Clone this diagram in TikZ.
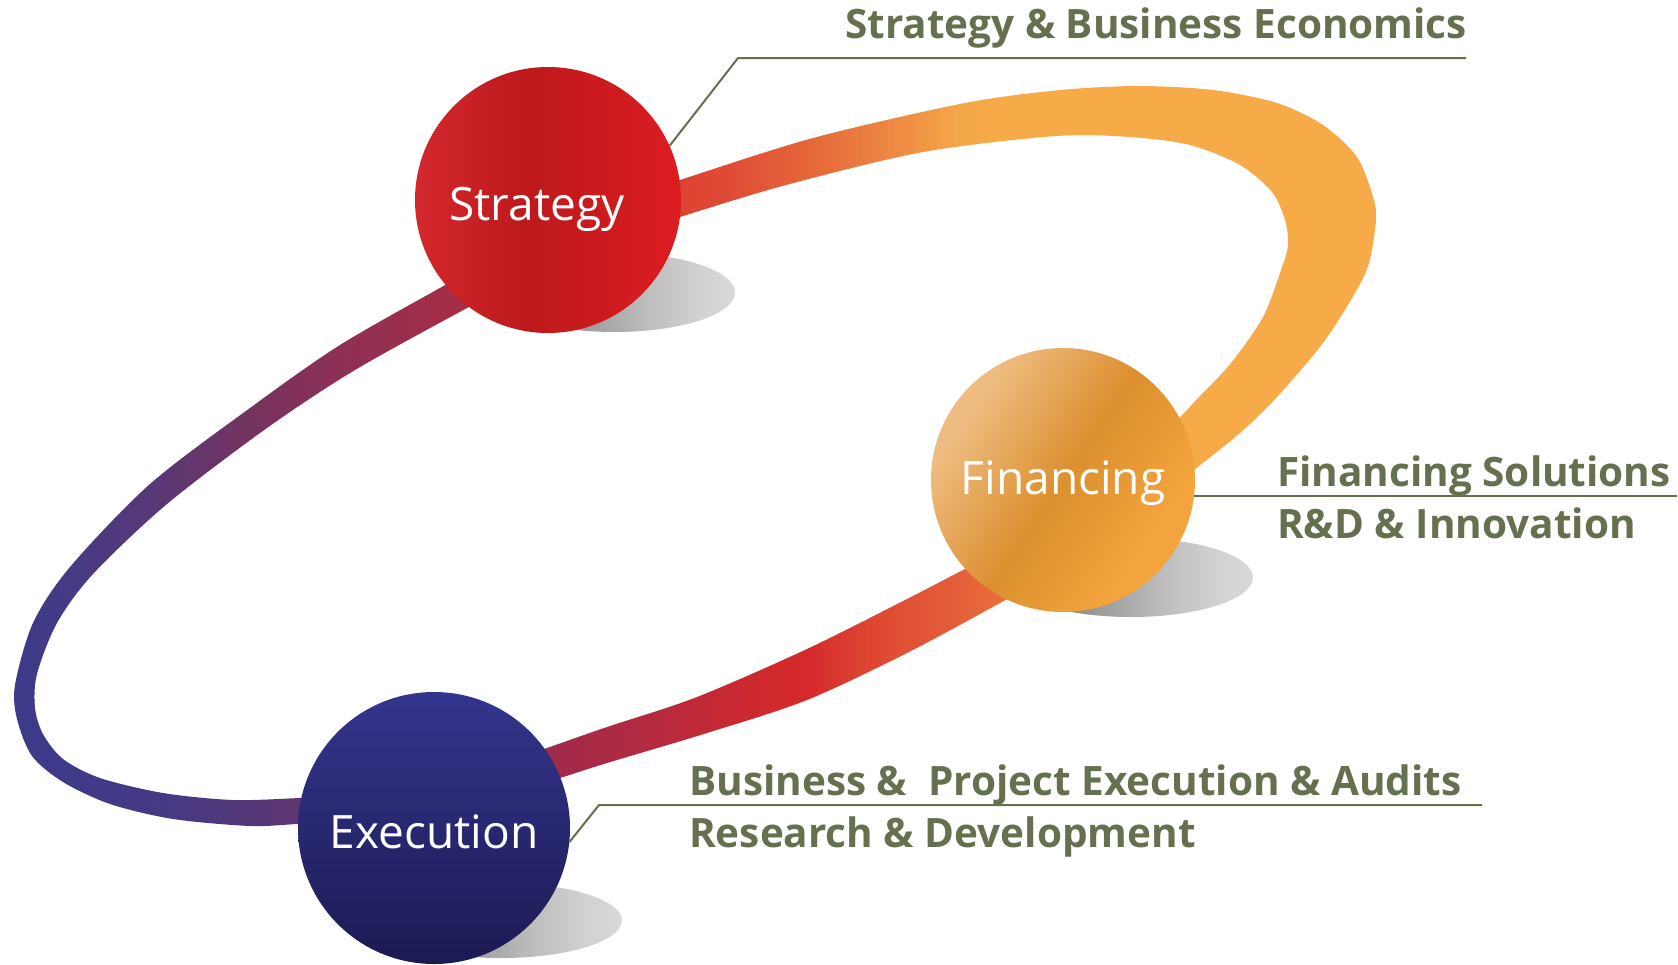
\documentclass[tikz,border=0pt]{standalone}
\usepackage{fontspec}
\setmainfont{Open Sans}
% band colours
\definecolor{ub0}{HTML}{D9262C}
\definecolor{ub1}{HTML}{DE4232}
\definecolor{ub2}{HTML}{DF4B36}
\definecolor{ub3}{HTML}{E66A3A}
\definecolor{ub4}{HTML}{EF9044}
\definecolor{ub5}{HTML}{F4A648}
\definecolor{ub6}{HTML}{F7AB48}
\definecolor{lb0}{HTML}{9F2A4C}
\definecolor{lb1}{HTML}{B42A3F}
\definecolor{lb2}{HTML}{CF282E}
\definecolor{lb3}{HTML}{D52A2B}
\definecolor{lb4}{HTML}{DE4632}
\definecolor{lb5}{HTML}{E4603A}
\definecolor{lb6}{HTML}{EA713B}
\definecolor{lb7}{HTML}{EC773C}
\definecolor{la0}{HTML}{3D3A89}
\definecolor{la1}{HTML}{453A84}
\definecolor{la2}{HTML}{573877}
\definecolor{la3}{HTML}{74335F}
\definecolor{la4}{HTML}{8C3056}
\definecolor{la5}{HTML}{A52D47}
\definecolor{la6}{HTML}{B02B43}
\definecolor{lc1}{HTML}{403A88}
\definecolor{lc2}{HTML}{473984}
\definecolor{lc3}{HTML}{533777}
\definecolor{lc4}{HTML}{603571}
\definecolor{lc5}{HTML}{663470}
% circles
\definecolor{s0}{HTML}{D3282D}
\definecolor{s1}{HTML}{BD191C}
\definecolor{s2}{HTML}{DC1D20}
\definecolor{f0}{HTML}{F3A43C}
\definecolor{f1}{HTML}{DC8F2F}
\definecolor{f2}{HTML}{EEBC80}
\definecolor{eTop}{HTML}{34358D}
\definecolor{eBot}{HTML}{1C1A53}
\definecolor{g0}{HTML}{707070}
\definecolor{g1}{HTML}{8E8E8E}
\definecolor{g2}{HTML}{BEBEBE}
\definecolor{g3}{HTML}{D2D2D2}
\definecolor{g4}{HTML}{D9D9D9}
\definecolor{labC}{HTML}{65704F}
\pgfdeclarehorizontalshading{upperband}{100bp}{color(0bp)=(ub0); color(25bp)=(ub0); color(30bp)=(ub1); color(32.9bp)=(ub2); color(38.6bp)=(ub3); color(44.4bp)=(ub4); color(47.2bp)=(ub5); color(50.1bp)=(ub6); color(100bp)=(ub6)}
\pgfdeclarehorizontalshading{lowerband}{100bp}{color(0bp)=(lb0); color(30.8bp)=(lb0); color(39.7bp)=(lb1); color(49.1bp)=(lb2); color(53.2bp)=(lb3); color(58.6bp)=(lb4); color(66.4bp)=(lb5); color(70.7bp)=(lb6); color(75bp)=(lb7); color(100bp)=(lb7)}
\pgfdeclarehorizontalshading{leftupper}{100bp}{color(0bp)=(la0); color(26.9bp)=(la0); color(31.2bp)=(la1); color(38.9bp)=(la2); color(48.1bp)=(la3); color(55.8bp)=(la4); color(66.7bp)=(la5); color(73.1bp)=(la6); color(100bp)=(la6)}
\pgfdeclarehorizontalshading{leftlower}{100bp}{color(0bp)=(la0); color(26.9bp)=(la0); color(34.3bp)=(lc1); color(40.7bp)=(lc2); color(48.1bp)=(lc3); color(52.8bp)=(lc4); color(56.5bp)=(lc5); color(100bp)=(lc5)}
\pgfdeclarehorizontalshading{stratsh}{100bp}{color(0bp)=(s0); color(25bp)=(s0); color(46bp)=(s1); color(75bp)=(s2); color(100bp)=(s2)}
\pgfdeclareverticalshading{finsh}{100bp}{color(0bp)=(f0); color(30bp)=(f0); color(50bp)=(f1); color(72bp)=(f2); color(100bp)=(f2)}
\pgfdeclarehorizontalshading{shadowsh}{100bp}{color(0bp)=(g0); color(25bp)=(g0); color(38bp)=(g1); color(57bp)=(g2); color(68bp)=(g3); color(75bp)=(g4); color(100bp)=(g4)}
\begin{document}
\begin{tikzpicture}[x=1pt,y=-1pt,
  leader/.style={draw=labC, line width=2pt},
  ball/.style={circle, inner sep=0pt, outer sep=0pt, text=white,
    font=\fontsize{46}{50}\selectfont, text height=40pt, text depth=0pt},
  lab/.style={anchor=base west, inner sep=0pt, text=labC,
    font=\fontsize{40.5}{48}\selectfont\bfseries}]
\useasboundingbox (0,0) rectangle (1678,964);
% upper band (Strategy -> loop -> Financing)
\begin{scope}
\clip plot[smooth] coordinates {(620,200) (680,180) (813,138) (965,103) (1061,90) (1139,86) (1213,90) (1277,103) (1323,125) (1357,157) (1373,197) (1376,220) (1369,263) (1355,293) (1323,343) (1277,397) (1240,433) (1194,470) (1150,505)}
  -- plot[smooth] coordinates {(1140,455) (1180,417) (1199,397) (1231,363) (1263,317) (1281,270) (1288,245) (1285,220) (1272,192) (1240,165) (1190,145) (1130,137) (1056,136) (923,152) (786,185) (680,217) (620,237)} -- cycle;
\shade[shading=upperband] (600,60) rectangle (1400,520);
\end{scope}
% lower band (Financing -> Execution)
\begin{scope}
\clip plot[smooth] coordinates {(1020,541) (963,570) (907,599) (807,649) (697,697) (607,727) (547,748) (490,768)}
  -- plot[smooth] coordinates {(500,796) (560,778) (607,763) (707,733) (807,700) (907,653) (1000,603) (1040,580)} -- cycle;
\shade[shading=lowerband] (480,520) rectangle (1060,820);
\end{scope}
% left band (Strategy -> Execution)
\begin{scope}
\clip plot[smooth] coordinates {(500,254) (447,284) (340,345) (250,408) (150,484) (70,567) (33,623) (15,685) (17,719) (32,756) (63,782) (110,804) (173,819) (250,826) (297,824) (340,822)}
  -- plot[smooth] coordinates {(340,796) (300,798) (233,800) (163,793) (100,778) (63,759) (43,734) (35,708) (37,674) (57,623) (93,574) (167,504) (267,428) (355,370) (467,308) (520,280)} -- cycle;
\shade[shading=leftupper] (0,240) rectangle (540,700);
\shade[shading=leftlower] (0,700) rectangle (540,850);
\end{scope}
% shadows
\shade[shading=shadowsh] (615,292.5) ellipse [x radius=120, y radius=39.5];
\shade[shading=shadowsh] (1131,577.5) ellipse [x radius=122, y radius=39.5];
\shade[shading=shadowsh] (501,920.5) ellipse [x radius=121, y radius=37.5];
% circles
\node[ball, minimum size=266pt, shade, shading=stratsh] (strat) at (548,200) {Strategy\hspace*{22pt}};
\node[ball, minimum size=264pt, shade, shading=finsh, shading angle=56, text height=28pt] (fin) at (1063,480) {Financing};
\node[ball, minimum size=272pt, top color=eTop, bottom color=eBot] (exe) at (434,828) {Execution};
% leaders
\coordinate (sbeKnee) at (738,58);
\coordinate (sbeEnd) at (1466,58);
\coordinate (finEnd) at (1677,497);
\coordinate (exeKnee) at (599,805);
\coordinate (exeEnd) at (1482,805);
\draw[leader] (strat.24) -- (sbeKnee) -- (sbeEnd);
\draw[leader] (fin.-7) -- (fin.-7 -| finEnd);
\draw[leader] (exe.-6) -- (exeKnee) -- (exeEnd);
% labels
\node[lab] (sbe) at (845,38) {Strategy \& Business Economics};
\node[lab] (fs) at (1277,486) {Financing Solutions};
\node[lab] (rdi) at (1277,538) {R\&D \& Innovation};
\node[lab] (bpe) at (689,795) {Business \&\ \ Project Execution \& Audits};
\node[lab] (rdd) at (689,847) {Research \& Development};
\end{tikzpicture}
\end{document}
